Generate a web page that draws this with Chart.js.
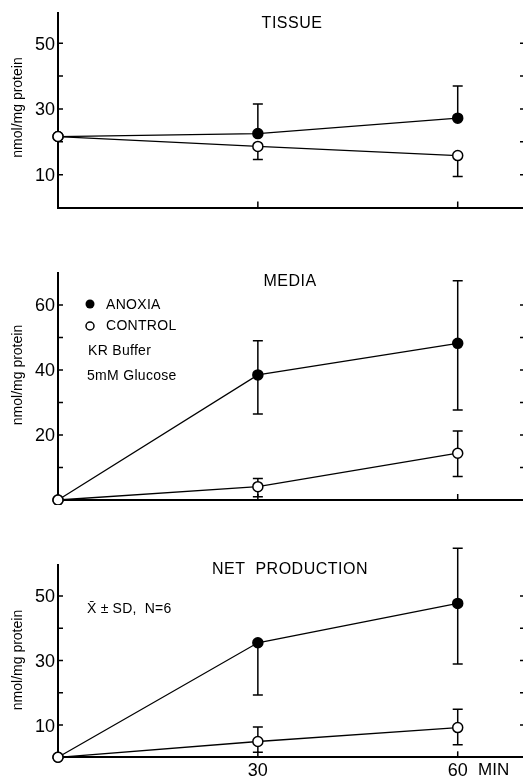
<!DOCTYPE html>
<html><head><meta charset="utf-8">
<script src="https://cdn.jsdelivr.net/npm/chart.js@4.4.1/dist/chart.umd.min.js"></script>
<style>
html,body{margin:0;padding:0;background:#fff;}
#wrap{position:relative;width:523px;height:778px;overflow:hidden;background:#fff;}
canvas{position:absolute;left:0;}
</style></head><body>
<div id="wrap">
<canvas id="c1" width="523" height="215" style="top:0px"></canvas>
<canvas id="c2" width="523" height="290" style="top:215px"></canvas>
<canvas id="c3" width="523" height="273" style="top:505px"></canvas>
</div>
<script>
// ---------- DATA ----------
const times = [0, 30, 60];
const xTickValues = [30, 60];
const xTickLabels = ['30', '60'];

// TISSUE panel
const tissueAnoxia     = [21.6, 22.5, 27.2];
const tissueAnoxiaHi   = [null, 31.5, 37.0];
const tissueAnoxiaLo   = [null, null, null];
const tissueControl    = [21.6, 18.6, 15.8];
const tissueControlHi  = [null, null, null];
const tissueControlLo  = [null, 14.6, 9.4];
const tissueYTicks     = [10, 20, 30, 40, 50];
const tissueYLabels    = [10, 30, 50];

// MEDIA panel
const mediaAnoxia      = [0, 38.5, 48.2];
const mediaAnoxiaHi    = [null, 49.0, 67.5];
const mediaAnoxiaLo    = [null, 26.5, 27.7];
const mediaControl     = [0, 4.1, 14.4];
const mediaControlHi   = [null, 6.6, 21.2];
const mediaControlLo   = [null, 1.0, 7.2];
const mediaYTicks      = [10, 20, 30, 40, 50, 60];
const mediaYLabels     = [20, 40, 60];

// NET PRODUCTION panel
const netAnoxia        = [0, 35.5, 47.7];
const netAnoxiaHi      = [null, null, 64.8];
const netAnoxiaLo      = [null, 19.3, 28.9];
const netControl       = [0, 4.9, 9.2];
const netControlHi     = [null, 9.4, 14.9];
const netControlLo     = [null, 1.6, 3.9];
const netYTicks        = [10, 20, 30, 40, 50];
const netYLabels       = [10, 30, 50];

// ---------- DRAWING ----------
const FONT = '"Liberation Sans", Arial, Helvetica, sans-serif';
Chart.defaults.font.family = FONT;
Chart.defaults.color = '#000';

const decor = {
  id: 'decor',
  beforeDatasetsDraw(chart, args, o) {
    const {ctx, chartArea: a, scales: {x, y}} = chart;
    ctx.save();
    ctx.strokeStyle = '#000';
    ctx.lineWidth = 1.5;
    chart.data.datasets.forEach(ds => {
      ds.data.forEach((p, i) => {
        const px = x.getPixelForValue(p.x);
        const py = y.getPixelForValue(p.y);
        [ds.errHi[i], ds.errLo[i]].forEach(e => {
          if (e === null || e === undefined) return;
          const pe = y.getPixelForValue(e);
          ctx.beginPath();
          ctx.moveTo(px, py); ctx.lineTo(px, pe);
          ctx.moveTo(px - 5, pe); ctx.lineTo(px + 5, pe);
          ctx.stroke();
        });
      });
    });
    ctx.lineWidth = 1.5;
    o.yTicks.forEach(v => {
      const py = y.getPixelForValue(v);
      ctx.beginPath();
      ctx.moveTo(a.left, py); ctx.lineTo(a.left + 5, py);
      ctx.moveTo(a.right - 3, py); ctx.lineTo(a.right, py);
      ctx.stroke();
    });
    o.xTicks.forEach(v => {
      const px = x.getPixelForValue(v);
      ctx.beginPath();
      ctx.moveTo(px, a.bottom); ctx.lineTo(px, a.bottom - 6);
      ctx.stroke();
    });
    ctx.restore();
  },
  afterDraw(chart, args, o) {
    const {ctx} = chart;
    ctx.save();
    ctx.fillStyle = '#000';
    ctx.strokeStyle = '#000';
    (o.symbols || []).forEach(s => {
      ctx.beginPath();
      ctx.arc(s.x, s.y, s.r, 0, Math.PI * 2);
      if (s.filled) { ctx.fill(); }
      else { ctx.lineWidth = 1.5; ctx.fillStyle = '#fff'; ctx.fill(); ctx.stroke(); ctx.fillStyle = '#000'; }
    });
    (o.texts || []).forEach(t => {
      ctx.save();
      ctx.font = t.font;
      ctx.textAlign = t.align || 'left';
      ctx.textBaseline = 'middle';
      if ('letterSpacing' in ctx) ctx.letterSpacing = t.spacing || '0px';
      ctx.translate(t.x, t.y);
      if (t.rotate) ctx.rotate(t.rotate);
      ctx.fillText(t.text, 0, 0);
      ctx.restore();
    });
    ctx.restore();
  }
};

function pts(vals) { return times.map((t, i) => ({x: t, y: vals[i]})); }

function makePanel(id, p) {
  const common = {
    borderColor: '#000', borderWidth: 1.3, pointRadius: 5, pointBorderWidth: 1.5,
    pointBorderColor: '#000', tension: 0, clip: false, showLine: true
  };
  return new Chart(document.getElementById(id), {
    type: 'scatter',
    data: {
      datasets: [
        Object.assign({label: 'CONTROL', data: pts(p.control), errHi: p.controlHi, errLo: p.controlLo,
          pointBackgroundColor: '#fff'}, common),
        Object.assign({label: 'ANOXIA', data: pts(p.anoxia), errHi: p.anoxiaHi, errLo: p.anoxiaLo,
          pointBackgroundColor: '#000'}, common)
      ]
    },
    options: {
      responsive: false, animation: false, events: [],
      layout: {autoPadding: false, padding: {top: p.padTop, left: 0, right: 0, bottom: 0}},
      plugins: {
        legend: {display: false}, tooltip: {enabled: false}, title: {display: false},
        decor: {yTicks: p.yTicks, xTicks: xTickValues, texts: p.texts, symbols: p.symbols || []}
      },
      scales: {
        x: {
          type: 'linear', min: 0, max: 69.8,
          afterFit: s => { s.height = p.xHeight; s.paddingLeft = 0; s.paddingRight = 0; },
          grid: {display: true, drawOnChartArea: false, drawTicks: false},
          border: {display: true, color: '#000', width: 2},
          ticks: {
            display: p.xLabels, stepSize: 30, includeBounds: false, autoSkip: false, maxRotation: 0,
            padding: 3, font: {size: 18, family: FONT}, color: '#000',
            callback: v => { const k = xTickValues.indexOf(v); return k >= 0 ? xTickLabels[k] : ''; }
          }
        },
        y: {
          type: 'linear', min: 0, max: p.yMax,
          afterFit: s => { s.width = 58; s.paddingTop = 0; s.paddingBottom = 0; },
          grid: {display: true, drawOnChartArea: false, drawTicks: false},
          border: {display: true, color: '#000', width: 2},
          ticks: {
            stepSize: 10, includeBounds: false, autoSkip: false, padding: 3, labelOffset: 1.5,
            font: {size: 18, family: FONT}, color: '#000',
            callback: v => p.yLabels.includes(v) ? String(v) : ''
          }
        }
      }
    },
    plugins: [decor]
  });
}

const yTitle = 'nmol/mg protein';
const titleFont = '16px ' + FONT;
const smallFont = '14px ' + FONT;

makePanel('c1', {
  anoxia: tissueAnoxia, anoxiaHi: tissueAnoxiaHi, anoxiaLo: tissueAnoxiaLo,
  control: tissueControl, controlHi: tissueControlHi, controlLo: tissueControlLo,
  yTicks: tissueYTicks, yLabels: tissueYLabels, yMax: 59.2, padTop: 13, xHeight: 7.5, xLabels: false,
  texts: [
    {text: 'TISSUE', x: 292, y: 23.5, font: titleFont, align: 'center', spacing: '0.5px'},
    {text: yTitle, x: 18, y: 107.5, font: smallFont, align: 'center', rotate: -Math.PI / 2}
  ]
});

makePanel('c2', {
  anoxia: mediaAnoxia, anoxiaHi: mediaAnoxiaHi, anoxiaLo: mediaAnoxiaLo,
  control: mediaControl, controlHi: mediaControlHi, controlLo: mediaControlLo,
  yTicks: mediaYTicks, yLabels: mediaYLabels, yMax: 70, padTop: 57.5, xHeight: 5, xLabels: false,
  symbols: [{x: 90, y: 89, r: 4.5, filled: true}, {x: 90, y: 111, r: 4, filled: false}],
  texts: [
    {text: 'MEDIA', x: 290, y: 66.5, font: titleFont, align: 'center', spacing: '0.5px'},
    {text: 'ANOXIA', x: 106, y: 90.5, font: smallFont, spacing: '0.3px'},
    {text: 'CONTROL', x: 106, y: 111.5, font: smallFont, spacing: '0.3px'},
    {text: 'KR Buffer', x: 88, y: 136.5, font: smallFont, spacing: '0.3px'},
    {text: '5mM Glucose', x: 87, y: 161.5, font: smallFont, spacing: '0.3px'},
    {text: yTitle, x: 18, y: 160, font: smallFont, align: 'center', rotate: -Math.PI / 2}
  ]
});

makePanel('c3', {
  anoxia: netAnoxia, anoxiaHi: netAnoxiaHi, anoxiaLo: netAnoxiaLo,
  control: netControl, controlHi: netControlHi, controlLo: netControlLo,
  yTicks: netYTicks, yLabels: netYLabels, yMax: 59.6, padTop: 60, xHeight: 20.7, xLabels: true,
  texts: [
    {text: 'NET  PRODUCTION', x: 290, y: 65, font: titleFont, align: 'center', spacing: '0.5px'},
    {text: 'X\u0304 \u00B1 SD,  N=6', x: 87, y: 104, font: smallFont, spacing: '0.2px'},
    {text: 'MIN', x: 478, y: 265.5, font: '17px ' + FONT},
    {text: yTitle, x: 18, y: 155, font: smallFont, align: 'center', rotate: -Math.PI / 2}
  ]
});
</script>
</body></html>
